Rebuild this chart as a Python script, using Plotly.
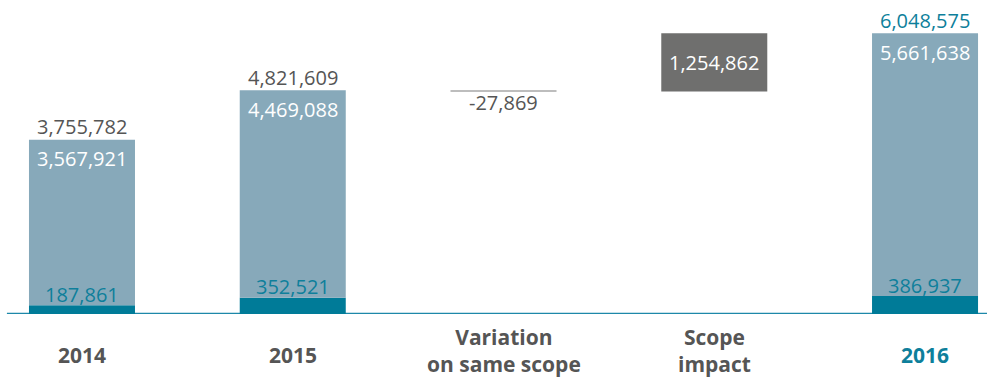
import plotly.graph_objects as go

# Categories and values
categories = ["2014", "2015", "Variation<br>on same scope", "Scope<br>impact", "2016"]
years = ["2014", "2015", "2016"]
year_pos = [0, 1, 4]
dark_part = [187861, 352521, 386937]
light_part = [3567921, 4469088, 5661638]
totals = [3755782, 4821609, 6048575]
variation = -27869
scope_impact = 1254862

C_LIGHT = "#87a9ba"
C_DARK = "#007b98"
C_TEAL_TXT = "#0e7f9b"
C_GRAY_TXT = "#555555"
C_SCOPE = "#6f6f6e"
C_VAR = "#bdbdbd"
C_AXIS = "#1d88a9"
FONT = "Open Sans"

fig = go.Figure()

# stacked yearly bars
fig.add_trace(go.Bar(x=year_pos, y=dark_part, marker_color=C_DARK, width=0.503,
                     marker_line_width=0, hoverinfo="skip"))
fig.add_trace(go.Bar(x=year_pos, y=light_part, base=dark_part, marker_color=C_LIGHT,
                     width=0.503, marker_line_width=0, hoverinfo="skip"))

# bridge steps
var_base = totals[1]
scope_base = totals[1] + variation
fig.add_trace(go.Bar(x=[2], y=[variation], base=[var_base], marker_color=C_VAR,
                     width=0.503, marker_line_width=0, hoverinfo="skip"))
fig.add_trace(go.Bar(x=[3], y=[scope_impact], base=[scope_base], marker_color=C_SCOPE,
                     width=0.503, marker_line_width=0, hoverinfo="skip"))

ann = []
fs = 20
for i, p in enumerate(year_pos):
    last = i == len(year_pos) - 1
    ann.append(dict(x=p, y=totals[i], text=f"{totals[i]:,}", showarrow=False,
                    yanchor="middle", yshift=13,
                    font=dict(family=FONT, size=fs, color=C_TEAL_TXT if last else C_GRAY_TXT)))
    ann.append(dict(x=p, y=totals[i], text=f"{light_part[i]:,}", showarrow=False,
                    yanchor="middle", yshift=-19,
                    font=dict(family=FONT, size=fs, color="white")))
    ann.append(dict(x=p, y=dark_part[i], text=f"{dark_part[i]:,}", showarrow=False,
                    yanchor="middle", yshift=11,
                    font=dict(family=FONT, size=fs, color=C_TEAL_TXT)))

ann.append(dict(x=2, y=var_base, text=f"{variation:,}", showarrow=False,
                yanchor="middle", yshift=-12,
                font=dict(family=FONT, size=fs, color=C_GRAY_TXT)))
ann.append(dict(x=3, y=scope_base + scope_impact / 2, text=f"{scope_impact:,}",
                showarrow=False, yanchor="middle",
                font=dict(family=FONT, size=fs, color="white")))

# category labels under the axis
for i, cat in enumerate(categories):
    color = C_TEAL_TXT if i == len(categories) - 1 else C_GRAY_TXT
    shift = -41 if "<br>" not in cat else -36
    bold = "<br>".join(f"<b>{part}</b>" for part in cat.split("<br>"))
    ann.append(dict(x=i, y=0, yref="paper", text=bold, showarrow=False,
                    yanchor="middle", yshift=shift,
                    font=dict(family=FONT, size=21, color=color)))

fig.update_layout(
    width=987, height=381,
    margin=dict(l=0, r=0, t=0, b=67),
    paper_bgcolor="white", plot_bgcolor="white",
    barmode="overlay", showlegend=False,
    annotations=ann,
    shapes=[dict(type="line", xref="paper", yref="y", x0=0.007, x1=1, y0=0, y1=0,
                 line=dict(color=C_AXIS, width=2.5), layer="below")],
    xaxis=dict(range=[-0.389, 4.294], showticklabels=False, showgrid=False,
               zeroline=False, showline=False, fixedrange=True),
    yaxis=dict(range=[0, 6.767e6], showticklabels=False, showgrid=False,
               zeroline=False, showline=False, fixedrange=True),
)

fig.write_html("out.html")
